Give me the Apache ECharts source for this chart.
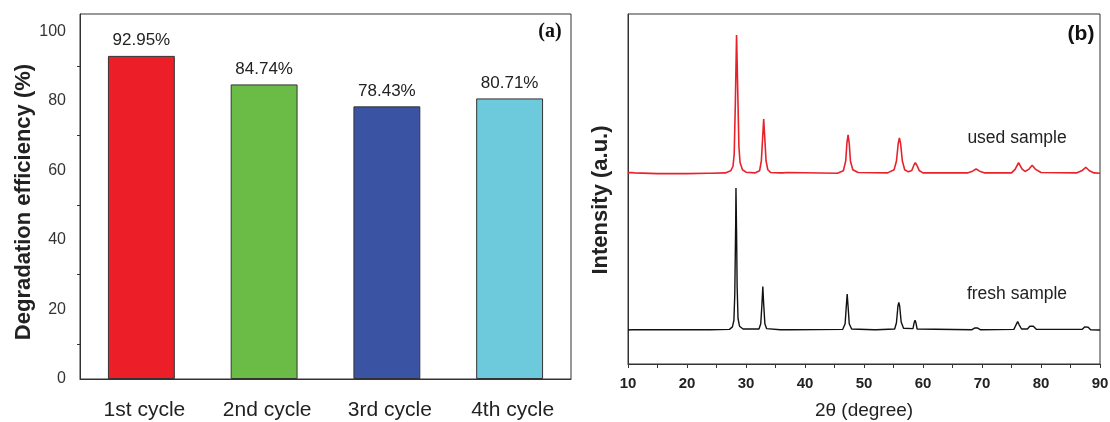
<!DOCTYPE html>
<html>
<head>
<meta charset="utf-8">
<script src="https://cdn.jsdelivr.net/npm/echarts@6/dist/echarts.min.js"></script>
<style>
html,body{margin:0;padding:0;background:#fff;}
#c{width:1110px;height:422px;}
</style>
</head>
<body>
<div id="c"></div>
<script>
// ---- Panel (a): degradation efficiency per cycle ----
const cycles = ['1st cycle', '2nd cycle', '3rd cycle', '4th cycle'];
const efficiency = [92.95, 84.74, 78.43, 80.71];
const barColors = ['#EC1E27', '#6BBC46', '#3A53A3', '#6CCADC'];
const effTicks = [0, 20, 40, 60, 80, 100];

// ---- Panel (b): XRD patterns (2θ, intensity a.u., offset traces) ----
const thetaTicks = [10, 20, 30, 40, 50, 60, 70, 80, 90];
const usedSample = [
  [10,54.6],[10.5,54.7],[10.8,55.0],[11.1,54.6],[15,54.4],[20,54.4],[23.5,54.5],[23.8,54.8],[24.1,54.5],
  [26.5,54.6],[27.4,55.2],[27.8,56.5],[28.0,60],[28.2,75],[28.4,94],[28.6,78],[28.8,62],[29.0,57.5],[29.4,55.5],[30,54.8],
  [31.5,54.6],[32.3,55.2],[32.6,58],[32.8,64],[33.0,70],[33.2,64],[33.4,58],[33.7,55.5],[34.2,54.7],
  [35.7,54.6],[36.0,55.1],[36.3,54.6],[37,54.7],[45.5,54.5],[46.5,55.2],[46.9,58],[47.1,63],[47.3,65.5],[47.5,63],[47.7,58],[48.1,55.5],[49,54.7],
  [54,54.6],[55.1,55.5],[55.5,58],[55.8,63],[56.0,64.6],[56.2,63],[56.5,58],[56.9,55.5],[57.5,54.9],
  [58.1,55.3],[58.45,56.8],[58.7,57.5],[58.95,56.8],[59.4,55.2],[60,54.6],[67.5,54.6],[68.4,55.1],[69.0,55.7],[69.6,55.1],[70.5,54.6],
  [75,54.6],[75.6,55.6],[76.2,57.5],[76.8,55.7],[77.3,55.0],[77.9,55.6],[78.5,56.8],[79.1,55.6],[80,54.7],
  [86,54.6],[87.0,55.3],[87.6,56.2],[88.2,55.2],[89,54.6],[90,54.5]
];
const freshSample = [
  [10,9.7],[10.6,9.8],[10.8,10.3],[11.0,9.8],[19.5,9.8],[19.7,10.1],[19.9,9.8],[23.5,9.8],[23.7,10.1],[23.9,9.8],
  [27.2,9.9],[27.7,10.6],[27.95,12.5],[28.1,20],[28.25,40],[28.3,50.3],[28.4,38],[28.5,22],[28.65,13],[28.9,10.8],[29.5,10],
  [32.2,10.0],[32.5,11.5],[32.7,17],[32.85,22.1],[33.0,17],[33.2,11.5],[33.5,10.1],[35.8,9.8],[36.0,10.3],[36.2,9.8],
  [37.2,9.8],[37.4,10.1],[37.6,9.8],[46.4,9.9],[46.8,11.5],[47.0,16.5],[47.15,20.0],[47.3,16.5],[47.5,11.5],[47.9,10.0],
  [51.7,9.8],[51.9,10.1],[52.1,9.8],[55.2,10.0],[55.5,11.8],[55.75,16.5],[55.9,17.6],[56.05,16.5],[56.3,12],[56.7,10.2],
  [58.3,10.1],[58.5,11.8],[58.65,12.5],[58.8,11.8],[59.0,10.0],[68.3,9.8],[68.8,10.3],[69.2,10.3],[69.7,9.8],
  [75.4,9.9],[75.8,11.3],[76.05,12.1],[76.3,11.2],[76.7,10.0],[77.7,10.0],[78.1,10.8],[78.4,11.2],[78.7,10.8],[79.2,9.9],
  [87.0,9.9],[87.4,10.6],[87.7,10.8],[88.0,10.5],[88.4,9.8],[90,9.7]
];

const FONT = '"Liberation Sans", Arial, sans-serif';
const chart = echarts.init(document.getElementById('c'), null, {renderer: 'canvas'});
chart.setOption({
  animation: false,
  backgroundColor: '#fff',
  grid: [
    {left: 80, right: 539, top: 14, bottom: 43, outerBoundsMode: 'none', containLabel: false,
     show: true, borderColor: '#333', borderWidth: 1, backgroundColor: 'transparent'},
    {left: 628, right: 10, top: 14, bottom: 58, outerBoundsMode: 'none', containLabel: false,
     show: true, borderColor: '#333', borderWidth: 1, backgroundColor: 'transparent'}
  ],
  xAxis: [
    {
      type: 'category', gridIndex: 0, data: cycles, boundaryGap: true,
      axisLine: {lineStyle: {color: '#333', width: 1}},
      axisTick: {alignWithLabel: true, inside: false, length: 7, lineStyle: {color: '#333'}},
      axisLabel: {fontFamily: FONT, fontSize: 21, color: '#222', margin: 21, padding: [0, 0, 0, 6]}
    },
    {
      type: 'value', gridIndex: 1, min: thetaTicks[0], max: thetaTicks[thetaTicks.length - 1], interval: 10,
      name: '2θ (degree)', nameLocation: 'middle', nameGap: 37,
      nameTextStyle: {fontFamily: FONT, fontSize: 19, color: '#222'},
      axisLine: {lineStyle: {color: '#333', width: 1}},
      axisTick: {inside: false, length: 4, lineStyle: {color: '#333'}},
      minorTick: {show: true, splitNumber: 2, length: 4, lineStyle: {color: '#333'}},
      splitLine: {show: false},
      axisLabel: {fontFamily: FONT, fontSize: 15, fontWeight: 'bold', color: '#222', margin: 12}
    }
  ],
  yAxis: [
    {
      type: 'value', gridIndex: 0, min: effTicks[0], max: 105, interval: 20,
      name: 'Degradation efficiency (%)', nameLocation: 'middle', nameGap: 44,
      nameTextStyle: {fontFamily: FONT, fontSize: 22, fontWeight: 'bold', color: '#222', padding: [0, 11, 0, 0]},
      axisLine: {show: true, lineStyle: {color: '#333', width: 1}},
      axisTick: {inside: false, length: 6, lineStyle: {color: '#333'}},
      minorTick: {show: true, splitNumber: 2, length: 3, lineStyle: {color: '#333'}},
      splitLine: {show: false},
      axisLabel: {fontFamily: FONT, fontSize: 16, color: '#333', margin: 14, showMaxLabel: false}
    },
    {
      type: 'value', gridIndex: 1, min: 0, max: 100,
      name: 'Intensity (a.u.)', nameLocation: 'middle', nameGap: 16,
      nameTextStyle: {fontFamily: FONT, fontSize: 22, fontWeight: 'bold', color: '#222', padding: [0, 22, 0, 0]},
      axisLine: {show: true, lineStyle: {color: '#333', width: 1}},
      axisTick: {show: false}, axisLabel: {show: false}, splitLine: {show: false}
    }
  ],
  series: [
    {
      type: 'bar', xAxisIndex: 0, yAxisIndex: 0, barWidth: '54.5%',
      data: efficiency.map((v, i) => ({value: v, itemStyle: {color: barColors[i]}})),
      itemStyle: {borderColor: '#333', borderWidth: 1},
      label: {show: true, position: 'top', distance: 7, fontFamily: FONT, fontSize: 17, color: '#222',
        formatter: p => p.value.toFixed(2) + '%'}
    },
    {
      type: 'line', xAxisIndex: 1, yAxisIndex: 1, data: usedSample, showSymbol: false, symbol: 'none',
      lineStyle: {color: '#E8222B', width: 1.6}, z: 3
    },
    {
      type: 'line', xAxisIndex: 1, yAxisIndex: 1, data: freshSample, showSymbol: false, symbol: 'none',
      lineStyle: {color: '#111', width: 1.4}, z: 3
    }
  ],
  graphic: [
    {type: 'text', x: 550, y: 32, style: {text: '(a)', font: 'bold 20px "Liberation Serif", "Times New Roman", serif', fill: '#111', align: 'center', verticalAlign: 'middle'}},
    {type: 'text', x: 1081, y: 34, style: {text: '(b)', font: 'bold 21px ' + FONT, fill: '#111', align: 'center', verticalAlign: 'middle'}},
    {type: 'text', x: 1017, y: 138, style: {text: 'used sample', font: '17.5px ' + FONT, fill: '#222', align: 'center', verticalAlign: 'middle'}},
    {type: 'text', x: 1017, y: 294, style: {text: 'fresh sample', font: '17.5px ' + FONT, fill: '#222', align: 'center', verticalAlign: 'middle'}}
  ]
});
</script>
</body>
</html>
